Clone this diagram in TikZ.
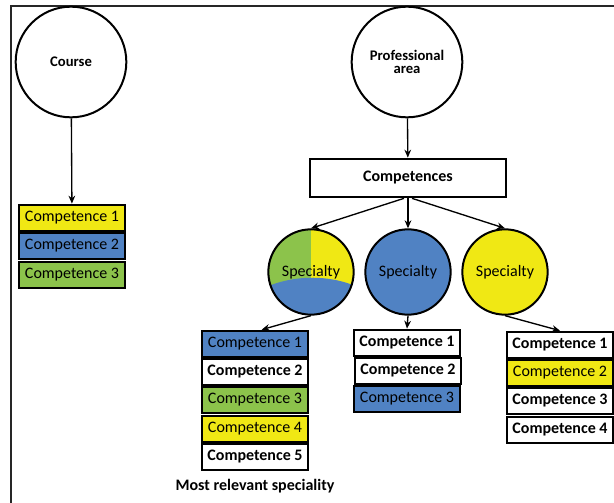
\documentclass[tikz,border=0pt]{standalone}
\usepackage{fontspec}
\setmainfont{Carlito}
\usetikzlibrary{arrows.meta}
\definecolor{cyel}{RGB}{240,232,20}
\definecolor{cblue}{RGB}{80,130,195}
\definecolor{cgreen}{RGB}{140,195,75}
\tikzset{
  bigcirc/.style={circle,draw,line width=1.5pt,minimum size=83pt,inner sep=0pt,font=\bfseries\fontsize{11}{12}\selectfont,align=center},
  speccirc/.style={circle,draw,line width=1.5pt,minimum size=64pt,inner sep=0pt,font=\fontsize{12}{13}\selectfont},
  compbox/.style={rectangle,draw,line width=1.5pt,minimum width=79pt,minimum height=20pt,inner sep=0pt,font=\fontsize{12}{13}\selectfont},
  boldbox/.style={compbox,fill=white,font=\bfseries\fontsize{12}{13}\selectfont},
  arr/.style={-{Stealth[length=6pt,width=5pt]},line width=1pt},
}
\begin{document}
\begin{tikzpicture}[x=0.75pt,y=-0.75pt]
\useasboundingbox (0,0) rectangle (614,503);
\draw[line width=1.5pt,black!85] (11,503) -- (11,6) -- (614,6);

% Left part
\node[bigcirc] (course) at (71,62) {Course};
\node[compbox,fill=cyel] (lc1) at (72,218) {Competence 1};
\node[compbox,fill=cblue] (lc2) at (72,246) {Competence 2};
\node[compbox,fill=cgreen] (lc3) at (72,275) {Competence 3};
\draw[arr] (course) -- (lc1);

% Right part
\node[bigcirc] (prof) at (407,62) {Professional\\[-2pt]area};
\node[rectangle,draw,line width=1.5pt,minimum width=147pt,minimum height=29pt,font=\bfseries\fontsize{12}{13}\selectfont] (comp) at (408,178) {Competences};
\draw[arr] (prof) -- (comp);

% specialty circles
\begin{scope}
  \clip (311,272) circle [radius=43];
  \fill[cgreen] (260,220) rectangle (311,300);
  \fill[cyel] (311,220) rectangle (360,300);
  \fill[cblue] (262,289) .. controls (290,275) and (330,273) .. (362,289) -- (362,320) -- (262,320) -- cycle;
\end{scope}
\node[speccirc] (s1) at (311,272) {Specialty};
\node[speccirc,fill=cblue] (s2) at (408,272) {Specialty};
\node[speccirc,fill=cyel] (s3) at (505,272) {Specialty};

\draw[arr] ([xshift=-3pt]comp.south) -- (s1.north);
\draw[arr] (comp.south) -- (s2.north);
\draw[arr] ([xshift=3pt]comp.south) -- (s3.north);

% stack 1
\node[compbox,fill=cblue] (a1) at (255,344) {Competence 1};
\node[boldbox] (a2) at (255,372) {Competence 2};
\node[compbox,fill=cgreen] (a3) at (255,400) {Competence 3};
\node[compbox,fill=cyel] (a4) at (255,429) {Competence 4};
\node[boldbox] (a5) at (255,457) {Competence 5};
\node[font=\bfseries\fontsize{12}{13}\selectfont] (most) at (255,486) {Most relevant speciality};

% stack 2
\node[boldbox] (b1) at (407,343) {Competence 1};
\node[boldbox] (b2) at (408,371) {Competence 2};
\node[compbox,fill=cblue] (b3) at (407,399) {Competence 3};

% stack 3
\node[boldbox] (c1) at (560,345) {Competence 1};
\node[compbox,fill=cyel] (c2) at (560,373) {Competence 2};
\node[boldbox] (c3) at (560,401) {Competence 3};
\node[boldbox] (c4) at (560,430) {Competence 4};

\draw[arr] (s1.south) -- ([xshift=5pt]a1.north);
\draw[arr] (s2.south) -- (b1.north);
\draw[arr] (s3.south) -- (c1.north);
\end{tikzpicture}
\end{document}
